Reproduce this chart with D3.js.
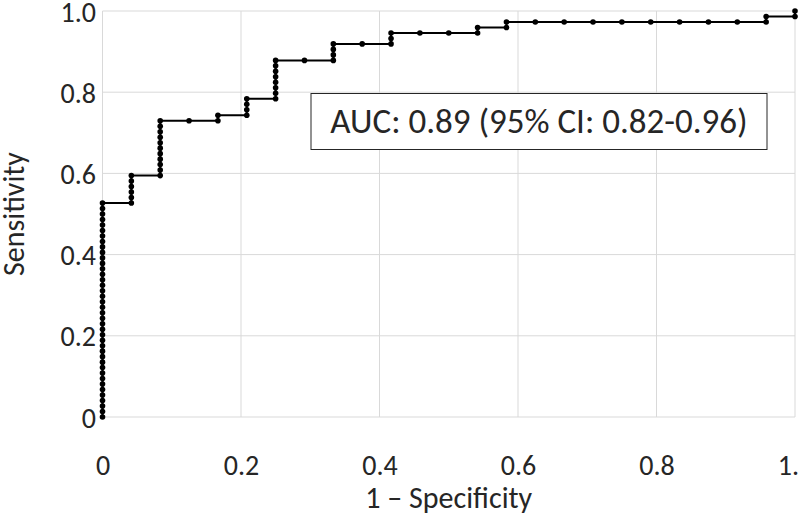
<!DOCTYPE html>
<html>
<head>
<meta charset="utf-8">
<script src="https://cdn.jsdelivr.net/npm/d3@7.9.0/dist/d3.min.js"></script>
<style>
  body { margin: 0; background: #fff; }
  text { font-family: Calibri, Carlito, Lato, sans-serif; fill: #262626; }
</style>
</head>
<body>
<svg id="chart" width="799" height="518"></svg>
<script>
// ROC curve: counts of false / true positives at each threshold (24 negatives, 74 positives)
const totalNeg = 24;
const totalPos = 74;
const fpCount = [
  0,0,0,0,0,0,0,0,0,0,0,0,0,0,0,0,0,0,0,0,0,0,0,0,0,0,0,0,0,0,0,0,0,0,0,0,0,0,0,0,
  1,1,1,1,1,1,
  2,2,2,2,2,2,2,2,2,2,2,
  3,
  4,4,
  5,5,5,5,
  6,6,6,6,6,6,6,6,
  7,
  8,8,8,8,
  9,
  10,10,10,
  11,
  12,
  13,13,
  14,14,
  15,16,17,18,19,20,21,22,
  23,23,
  24,24
];
const tpCount = [
  0,1,2,3,4,5,6,7,8,9,10,11,12,13,14,15,16,17,18,19,20,21,22,23,24,25,26,27,28,29,30,31,32,33,34,35,36,37,38,39,
  39,40,41,42,43,44,
  44,45,46,47,48,49,50,51,52,53,54,
  54,
  54,55,
  55,56,57,58,
  58,59,60,61,62,63,64,65,
  65,
  65,66,67,68,
  68,
  68,69,70,
  70,
  70,
  70,71,
  71,72,
  72,72,72,72,72,72,72,72,
  72,73,
  73,74
];
const tickValues = [0, 0.2, 0.4, 0.6, 0.8, 1.0];
const tickLabels = ['0', '0.2', '0.4', '0.6', '0.8', '1.0'];
const aucLabel = 'AUC: 0.89 (95% CI: 0.82-0.96)';

const points = fpCount.map((fp, i) => ({ x: fp / totalNeg, y: tpCount[i] / totalPos }));

const svg = d3.select('#chart');
const margin = { top: 11, right: 4, bottom: 101, left: 102.5 };
const width = 799, height = 518;

const xScale = d3.scaleLinear().domain([0, 1]).range([margin.left, width - margin.right]);
const yScale = d3.scaleLinear().domain([0, 1]).range([height - margin.bottom, margin.top]);

// gridlines
svg.append('g')
  .selectAll('line')
  .data(tickValues)
  .join('line')
  .attr('x1', d => xScale(d)).attr('x2', d => xScale(d))
  .attr('y1', yScale(0)).attr('y2', yScale(1))
  .attr('stroke', '#d9d9d9').attr('stroke-width', 1);

svg.append('g')
  .selectAll('line')
  .data(tickValues)
  .join('line')
  .attr('x1', xScale(0)).attr('x2', xScale(1))
  .attr('y1', d => yScale(d)).attr('y2', d => yScale(d))
  .attr('stroke', '#d9d9d9').attr('stroke-width', 1);

// axes (labels only)
const xAxis = svg.append('g')
  .attr('transform', `translate(0, 475)`)
  .call(d3.axisBottom(xScale).tickValues(tickValues).tickSize(0).tickFormat((d, i) => tickLabels[i]));
xAxis.select('.domain').remove();
xAxis.selectAll('text')
  .attr('y', 0).attr('dy', null)
  .style('font-size', '28px').style('font-family', null).style('fill', '#262626');

const yAxis = svg.append('g')
  .attr('transform', `translate(96, 0)`)
  .call(d3.axisLeft(yScale).tickValues(tickValues).tickSize(0).tickPadding(0).tickFormat((d, i) => tickLabels[i]));
yAxis.select('.domain').remove();
yAxis.selectAll('text')
  .attr('dy', '0.36em')
  .style('font-size', '28px').style('font-family', null).style('fill', '#262626');

// axis titles
svg.append('text')
  .attr('x', xScale(0.5))
  .attr('y', 508)
  .attr('text-anchor', 'middle')
  .style('font-size', '30px')
  .text('1 – Specificity');

svg.append('text')
  .attr('transform', `translate(24, ${yScale(0.5)}) rotate(-90)`)
  .attr('text-anchor', 'middle')
  .style('font-size', '30px')
  .text('Sensitivity');

// curve
const line = d3.line().x(d => xScale(d.x)).y(d => yScale(d.y));
svg.append('path')
  .datum(points)
  .attr('d', line)
  .attr('fill', 'none')
  .attr('stroke', '#000')
  .attr('stroke-width', 2);

svg.append('g')
  .selectAll('circle')
  .data(points)
  .join('circle')
  .attr('cx', d => xScale(d.x))
  .attr('cy', d => yScale(d.y))
  .attr('r', 2.8)
  .attr('fill', '#000');

// AUC annotation box
const box = svg.append('g');
box.append('rect')
  .attr('x', 311).attr('y', 93.5)
  .attr('width', 456).attr('height', 56)
  .attr('fill', '#fff')
  .attr('stroke', '#262626')
  .attr('stroke-width', 1);
box.append('text')
  .attr('x', 311 + 228)
  .attr('y', 133)
  .attr('text-anchor', 'middle')
  .style('font-size', '35px')
  .text(aucLabel);
</script>
</body>
</html>
